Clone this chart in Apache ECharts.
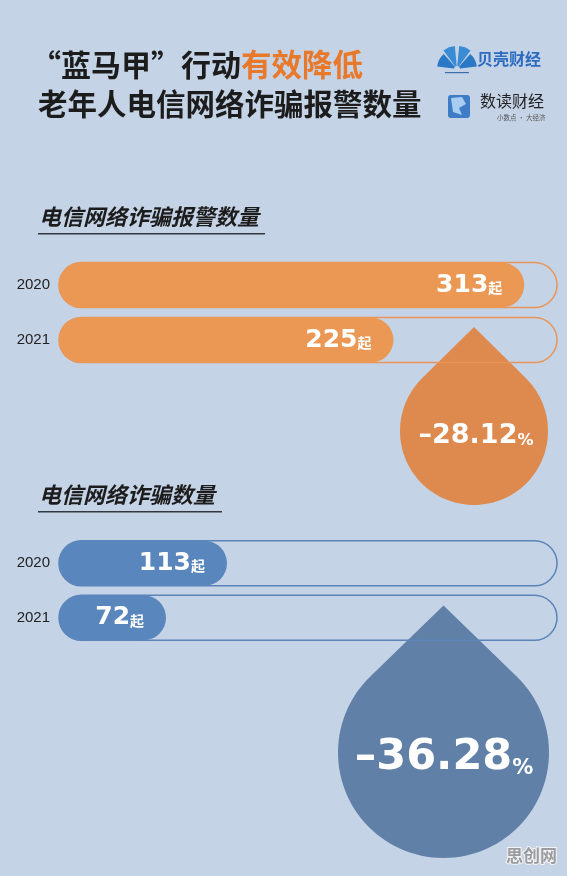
<!DOCTYPE html>
<html>
<head>
<meta charset="utf-8">
<script src="https://cdn.jsdelivr.net/npm/echarts@6/dist/echarts.min.js"></script>
<style>
html,body{margin:0;padding:0;background:#c5d3e6;}
#main{width:567px;height:876px;}
</style>
</head>
<body>
<div id="main"></div>
<script>
// ---- data ----
const years = ['2020', '2021'];
const reportCounts = [313, 225];   // 电信网络诈骗报警数量
const fraudCounts = [113, 72];     // 电信网络诈骗数量
const axisMax = 335;
const unit = '起';

function pctChange(arr) {
  return ((arr[1] - arr[0]) / arr[0] * 100).toFixed(2);
}
const reportPct = pctChange(reportCounts);
const fraudPct = pctChange(fraudCounts);

const ORANGE_BAR = '#ec9855';
const ORANGE_LINE = '#e8955a';
const ORANGE_DROP = '#de8a4e';
const BLUE_BAR = '#5a86be';
const BLUE_LINE = '#5b84b8';
const BLUE_DROP = '#6080a8';

// teardrop outline: tip above a circle, straight tangents
function dropPoints(cx, cy, r, d) {
  const c = r / d;
  const a0 = Math.acos(c);
  const pts = [[cx, cy - d]];
  const n = 90;
  for (let i = 0; i <= n; i++) {
    const a = a0 + (2 * Math.PI - 2 * a0) * i / n;
    pts.push([cx + r * Math.sin(a), cy - r * Math.cos(a)]);
  }
  return pts;
}

function barSeries(data, gridIdx, barColor, lineColor) {
  return {
    type: 'bar',
    xAxisIndex: gridIdx,
    yAxisIndex: gridIdx,
    data: data,
    barWidth: 45,
    z: 3,
    showBackground: true,
    backgroundStyle: {
      color: 'rgba(0,0,0,0)',
      borderColor: lineColor,
      borderWidth: 1.5,
      borderRadius: 23
    },
    itemStyle: { color: barColor, borderRadius: 23 },
    label: {
      show: true,
      position: 'insideRight',
      distance: 22,
      formatter: function (p) { return '{n|' + p.value + '}{u|' + unit + '}'; },
      rich: {
        n: { fontSize: 25, fontWeight: 'bold', color: '#fff', fontFamily: 'DejaVu Sans', verticalAlign: 'middle', lineHeight: 30 },
        u: { fontSize: 14, fontWeight: 'bold', color: '#fff', fontFamily: 'Noto Sans CJK SC', verticalAlign: 'middle', padding: [5, 0, 0, 0] }
      }
    }
  };
}

function yAx(gridIdx) {
  return {
    type: 'category', gridIndex: gridIdx, data: years, inverse: true,
    axisLine: { show: false }, axisTick: { show: false },
    axisLabel: { color: '#222', fontSize: 15, fontFamily: 'Liberation Sans', margin: 9 }
  };
}
function xAx(gridIdx) {
  return {
    type: 'value', gridIndex: gridIdx, min: 0, max: axisMax,
    show: false, splitLine: { show: false }
  };
}

const chart = echarts.init(document.getElementById('main'), null, { renderer: 'canvas' });

const option = {
  backgroundColor: '#c5d3e6',
  animation: false,
  grid: [
    { left: 59, right: 10, top: 257.5, height: 110 },
    { left: 59, right: 10, top: 536, height: 109 }
  ],
  xAxis: [xAx(0), xAx(1)],
  yAxis: [yAx(0), yAx(1)],
  series: [
    barSeries(reportCounts, 0, ORANGE_BAR, ORANGE_LINE),
    barSeries(fraudCounts, 1, BLUE_BAR, BLUE_LINE)
  ],
  graphic: [
    // Title
    {
      type: 'text', left: 31, top: 49, z: 10,
      style: {
        text: '{a|“蓝马甲”行动}{b|有效降低}',
        rich: {
          a: { fontSize: 30, fontWeight: 'bold', fill: '#1c1c1c', fontFamily: 'Noto Sans CJK SC' },
          b: { fontSize: 30.5, fontWeight: 'bold', fill: '#e8792a', fontFamily: 'Noto Sans CJK SC' }
        }
      }
    },
    {
      type: 'text', left: 38, top: 89, z: 10,
      style: { text: '老年人电信网络诈骗报警数量', fontSize: 29.5, fontWeight: 'bold', fill: '#1c1c1c', fontFamily: 'Noto Sans CJK SC' }
    },
    // Logo 1: shell
    {
      type: 'group', x: 443, y: 46, z: 10,
      children: [
        { type: 'sector', shape: { cx: 14, cy: 23, r0: 3, r: 20, startAngle: Math.PI * 1.04, endAngle: Math.PI * 1.27 }, style: { fill: '#2a78c6' } },
        { type: 'sector', shape: { cx: 14, cy: 23, r0: 3, r: 23, startAngle: Math.PI * 1.30, endAngle: Math.PI * 1.47 }, style: { fill: '#3a8ad4' } },
        { type: 'sector', shape: { cx: 14, cy: 23, r0: 3, r: 23, startAngle: Math.PI * 1.53, endAngle: Math.PI * 1.70 }, style: { fill: '#3a8ad4' } },
        { type: 'sector', shape: { cx: 14, cy: 23, r0: 3, r: 20, startAngle: Math.PI * 1.73, endAngle: Math.PI * 1.96 }, style: { fill: '#2a78c6' } },
        { type: 'rect', shape: { x: 2, y: 26, width: 24, height: 1.2 }, style: { fill: '#3a6ea8' } }
      ]
    },
    {
      type: 'text', left: 477, top: 51, z: 10,
      style: { text: '贝壳财经', fontSize: 16, fontWeight: 'bold', fill: '#2b6cc0', fontFamily: 'Noto Sans CJK SC' }
    },
    // Logo 2
    {
      type: 'rect', x: 448, y: 95, z: 10,
      shape: { x: 0, y: 0, width: 22, height: 23, r: 3 },
      style: { fill: '#3f7cc8' }
    },
    {
      type: 'polygon', z: 11,
      shape: { points: [[451, 98], [462, 97], [466, 104], [459, 108], [462, 115], [453, 112]] },
      style: { fill: '#a9cdf0' }
    },
    {
      type: 'text', left: 480, top: 93, z: 10,
      style: { text: '数读财经', fontSize: 16, fill: '#222', fontFamily: 'Noto Sans CJK SC' }
    },
    {
      type: 'text', left: 497, top: 114, z: 10,
      style: { text: '小数点 · 大经济', fontSize: 6.5, fill: '#555', fontFamily: 'Noto Sans CJK SC' }
    },
    // Section headers
    {
      type: 'text', left: 39, top: 206, z: 10,
      style: { text: '电信网络诈骗报警数量', fontSize: 22, fontWeight: 'bold', fontStyle: 'italic', fill: '#1c1c1c', fontFamily: 'Noto Sans CJK SC' }
    },
    { type: 'rect', x: 38, y: 233, z: 10, shape: { x: 0, y: 0, width: 227, height: 1.6 }, style: { fill: '#33383f' } },
    {
      type: 'text', left: 39, top: 484, z: 10,
      style: { text: '电信网络诈骗数量', fontSize: 22, fontWeight: 'bold', fontStyle: 'italic', fill: '#1c1c1c', fontFamily: 'Noto Sans CJK SC' }
    },
    { type: 'rect', x: 38, y: 511, z: 10, shape: { x: 0, y: 0, width: 184, height: 1.6 }, style: { fill: '#33383f' } },
    // Drops
    {
      type: 'polygon', z: 1,
      shape: { points: dropPoints(474, 431, 74, 104) },
      style: { fill: ORANGE_DROP }
    },
    {
      type: 'text', z: 5, x: 476, y: 434,
      style: {
        text: '{n|–' + Math.abs(reportPct).toFixed(2) + '}{p|%}',
        align: 'center', verticalAlign: 'middle',
        rich: {
          n: { fontSize: 27, fontWeight: 'bold', fill: '#fff', fontFamily: 'DejaVu Sans', verticalAlign: 'bottom', lineHeight: 30 },
          p: { fontSize: 16, fontWeight: 'bold', fill: '#fff', fontFamily: 'DejaVu Sans', verticalAlign: 'bottom', lineHeight: 25 }
        }
      }
    },
    {
      type: 'polygon', z: 1,
      shape: { points: dropPoints(443.5, 752.5, 105.5, 147) },
      style: { fill: BLUE_DROP }
    },
    {
      type: 'text', z: 5, x: 444, y: 755,
      style: {
        text: '{n|–' + Math.abs(fraudPct).toFixed(2) + '}{p|%}',
        align: 'center', verticalAlign: 'middle',
        rich: {
          n: { fontSize: 43, fontWeight: 'bold', fill: '#fff', fontFamily: 'DejaVu Sans', verticalAlign: 'bottom', lineHeight: 48 },
          p: { fontSize: 21, fontWeight: 'bold', fill: '#fff', fontFamily: 'DejaVu Sans', verticalAlign: 'bottom', lineHeight: 37 }
        }
      }
    },
    // Watermark
    {
      type: 'text', left: 505, top: 846, z: 10,
      style: { text: '思创网', fontSize: 17, fontWeight: 'bold', fill: '#9a9ca1', stroke: '#f4f4f4', lineWidth: 2, fontFamily: 'Noto Sans CJK SC' }
    }
  ]
};
chart.setOption(option);
</script>
</body>
</html>
